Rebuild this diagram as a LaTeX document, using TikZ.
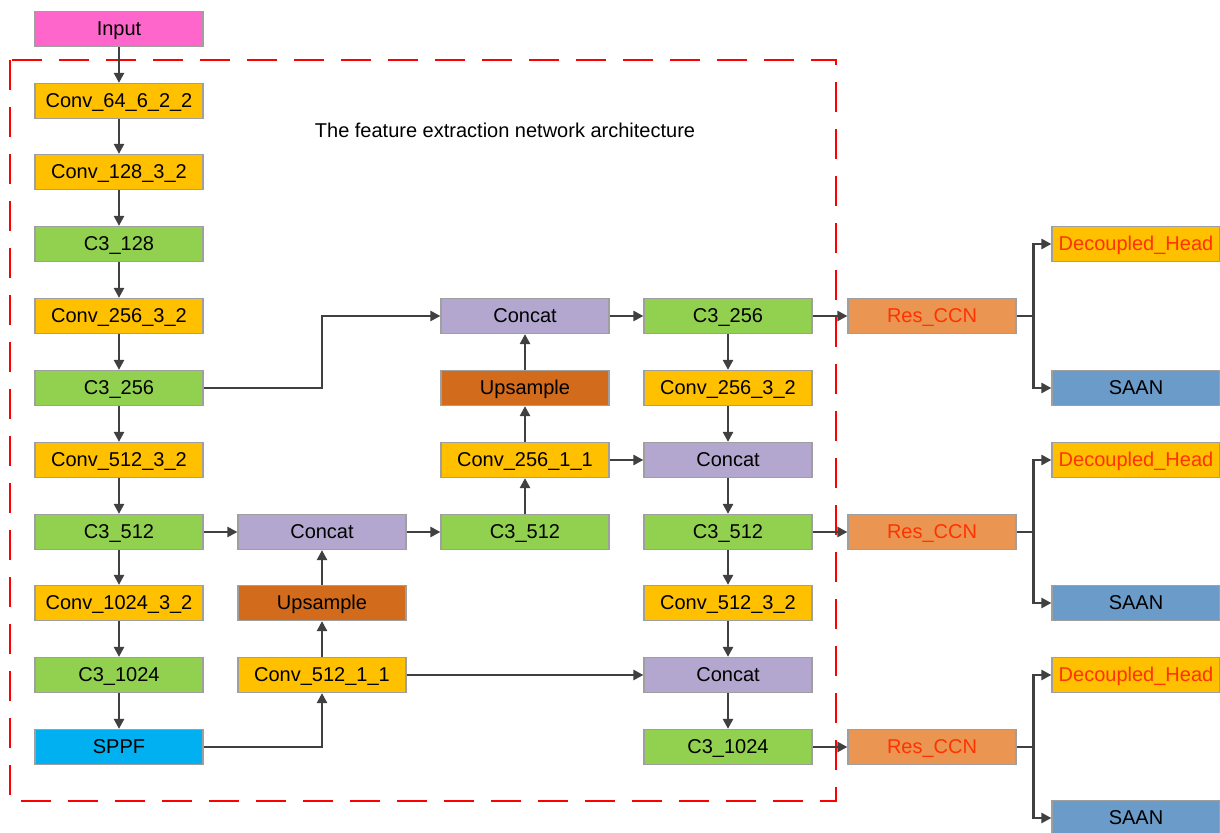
\documentclass[tikz,border=0pt]{standalone}
\usepackage{fontspec}
\setmainfont{Liberation Sans}
\usetikzlibrary{arrows.meta}

\definecolor{inpink}{HTML}{FF66CC}
\definecolor{convgold}{HTML}{FFC000}
\definecolor{cthree}{HTML}{92D050}
\definecolor{catlav}{HTML}{B4A7CF}
\definecolor{upbrown}{HTML}{D26B1C}
\definecolor{sppfblue}{HTML}{00B0F0}
\definecolor{resorange}{HTML}{EA9652}
\definecolor{saanblue}{HTML}{6A9BC9}
\definecolor{redtext}{HTML}{FF3300}
\definecolor{arrgray}{HTML}{404040}

\tikzset{
	blk/.style={draw=gray!75, line width=0.6pt, minimum width=84pt, minimum height=17.5pt, inner sep=0pt,
		text height=7.2pt, text depth=0.6pt, font=\fontsize{10}{12}\selectfont},
	inp/.style={blk, fill=inpink},
	conv/.style={blk, fill=convgold},
	cthr/.style={blk, fill=cthree},
	cat/.style={blk, fill=catlav},
	ups/.style={blk, fill=upbrown},
	sppf/.style={blk, fill=sppfblue},
	res/.style={blk, fill=resorange, text=redtext},
	head/.style={blk, fill=convgold, text=redtext},
	saan/.style={blk, fill=saanblue},
	arr/.style={draw=arrgray, line width=1.2pt, -{Triangle[length=5pt,width=5pt]}},
}

\begin{document}
\begin{tikzpicture}[x=0.5pt,y=-0.5pt]
	\useasboundingbox (0,0) rectangle (1220,833);
	
	% dashed frame of the feature extractor
	\draw [red, line width=1pt, dash pattern=on 15pt off 8.5pt] (10,60) rectangle (836,801);
	\node [font=\fontsize{10}{12}\selectfont] (ttl) at (505,130) {The feature extraction network architecture};
	
	% backbone
	\node [inp] (in) at (119,29) {Input};
	\node [conv] (a1) at (119,101) {Conv\_64\_6\_2\_2};
	\node [conv] (a2) at (119,172) {Conv\_128\_3\_2};
	\node [cthr] (a3) at (119,244) {C3\_128};
	\node [conv] (a4) at (119,316) {Conv\_256\_3\_2};
	\node [cthr] (a5) at (119,388) {C3\_256};
	\node [conv] (a6) at (119,460) {Conv\_512\_3\_2};
	\node [cthr] (a7) at (119,532) {C3\_512};
	\node [conv] (a8) at (119,603) {Conv\_1024\_3\_2};
	\node [cthr] (a9) at (119,675) {C3\_1024};
	\node [sppf] (a10) at (119,747) {SPPF};
	
	% neck, top-down
	\node [cat] (b1) at (322,532) {Concat};
	\node [ups] (b2) at (322,603) {Upsample};
	\node [conv] (b3) at (322,675) {Conv\_512\_1\_1};
	\node [cat] (c1) at (525,316) {Concat};
	\node [ups] (c2) at (525,388) {Upsample};
	\node [conv] (c3) at (525,460) {Conv\_256\_1\_1};
	\node [cthr] (c4) at (525,532) {C3\_512};
	
	% neck, bottom-up
	\node [cthr] (d1) at (728,316) {C3\_256};
	\node [conv] (d2) at (728,388) {Conv\_256\_3\_2};
	\node [cat] (d3) at (728,460) {Concat};
	\node [cthr] (d4) at (728,532) {C3\_512};
	\node [conv] (d5) at (728,603) {Conv\_512\_3\_2};
	\node [cat] (d6) at (728,675) {Concat};
	\node [cthr] (d7) at (728,747) {C3\_1024};
	
	% heads
	\node [res] (r1) at (932,316) {Res\_CCN};
	\node [res] (r2) at (932,532) {Res\_CCN};
	\node [res] (r3) at (932,747) {Res\_CCN};
	\node [head] (h1) at (1136,244) {Decoupled\_Head};
	\node [saan] (s1) at (1136,388) {SAAN};
	\node [head] (h2) at (1136,460) {Decoupled\_Head};
	\node [saan] (s2) at (1136,603) {SAAN};
	\node [head] (h3) at (1136,675) {Decoupled\_Head};
	\node [saan] (s3) at (1136,818) {SAAN};
	
	\foreach \s/\t in {in/a1,a1/a2,a2/a3,a3/a4,a4/a5,a5/a6,a6/a7,a7/a8,a8/a9,a9/a10,
		d1/d2,d2/d3,d3/d4,d4/d5,d5/d6,d6/d7,
		b3/b2,b2/b1,c4/c3,c3/c2,c2/c1,
		a7/b1,b1/c4,c1/d1,c3/d3,b3/d6,d1/r1,d4/r2,d7/r3}
		\draw [arr] (\s) -- (\t);
	
	\draw [arr] (a5.east) -- (a5 -| b1) |- (c1.west);
	\draw [arr] (a10.east) -| (b3.south);
	
	\foreach \i in {1,2,3}{
		\draw [arr] (r\i.east) -- ++(17,0) coordinate (k\i) |- (h\i.west);
		\draw [arr] (k\i) |- (s\i.west);
	}
\end{tikzpicture}
\end{document}
